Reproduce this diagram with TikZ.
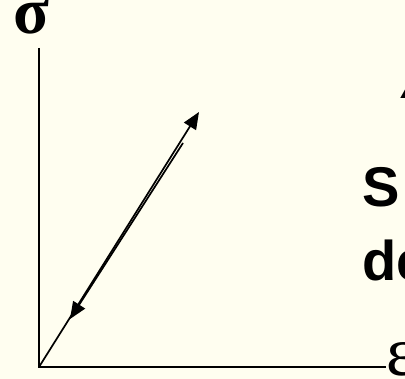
\documentclass[tikz,border=0pt]{standalone}
\usepackage{fontspec}
\setmainfont{Liberation Sans}
\newfontfamily\greekfont{Liberation Serif}
\usetikzlibrary{arrows.meta}
\definecolor{slidebg}{HTML}{FFFEF0}
\definecolor{inkblack}{HTML}{000000}
\tikzset{
  axisline/.style={line width=1.5pt,draw=inkblack},
  loadarrow/.style={-{Triangle[length=17pt,width=14pt]},line width=1.7pt,draw=inkblack,fill=inkblack},
  greeklabel/.style={font=\greekfont\bfseries\fontsize{66}{66}\selectfont,inner sep=0pt},
  slidetext/.style={font=\bfseries\fontsize{56}{56}\selectfont,inner sep=0pt,anchor=base west},
}
\begin{document}
\begin{tikzpicture}[x=1pt,y=-1pt]
  \fill[slidebg] (0,0) rectangle (405,379);
  \useasboundingbox (0,0) rectangle (405,379);
  % axes
  \coordinate (O) at (39,367);
  \coordinate (ytop) at (39,48);
  \node[greeklabel,anchor=base] (sigma) at (31,34) {σ};
  \node[greeklabel,font=\greekfont\fontsize{70}{70}\selectfont,anchor=base west] (eps) at (386,376) {ε};
  \draw[axisline] (ytop) -- (O) -- (eps.west |- O);
  % loading and unloading
  \coordinate (loadtip) at (199,112);
  \coordinate (unloadstart) at (183,143);
  \coordinate (unloadtip) at (70,319);
  \draw[loadarrow] (O) -- (loadtip);
  \draw[loadarrow] (unloadstart) -- (unloadtip);
  % text cut off at the right edge
  \node[slidetext,font=\bfseries\itshape\fontsize{38}{38}\selectfont] (head) at (401,99) {A};
  \node[slidetext] (line1) at (362,207) {S};
  \node[slidetext] (line2) at (362,281) {de};
\end{tikzpicture}
\end{document}
